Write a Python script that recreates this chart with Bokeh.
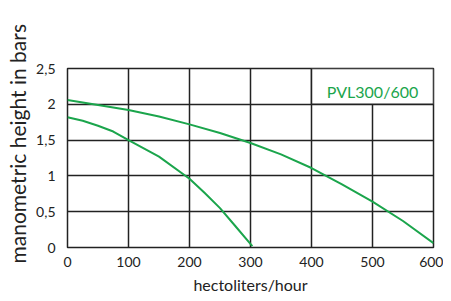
from bokeh.plotting import figure
from bokeh.models import FixedTicker, Label, Title
from bokeh.embed import file_html
from bokeh.resources import INLINE

# data
flow_a = [0, 50, 100, 150, 200, 250, 300, 350, 400, 450, 500, 550, 600]
head_a = [2.06, 1.99, 1.92, 1.83, 1.72, 1.60, 1.46, 1.30, 1.11, 0.88, 0.64, 0.37, 0.06]
flow_b = [0, 25, 50, 75, 100, 150, 200, 225, 250, 275, 303]
head_b = [1.82, 1.77, 1.70, 1.62, 1.50, 1.27, 0.96, 0.76, 0.55, 0.30, 0.02]
x_ticks = [0, 100, 200, 300, 400, 500, 600]
y_ticks = [0, 0.5, 1, 1.5, 2, 2.5]
y_tick_labels = ["0", "0,5", "1", "1,5", "2", "2,5"]
model_name = "PVL300/600"
x_title = "hectoliters/hour"
y_title = "manometric height in bars"

FONT = "Lato"
GREEN = "#1ba54c"
GRID = "#222222"
TEXT = "#222222"

p = figure(width=443, height=300, x_range=(0, 600), y_range=(0, 2.5),
           output_backend="svg", toolbar_location=None,
           min_border_left=67, min_border_right=10,
           min_border_top=68, min_border_bottom=53)
p.background_fill_color = "white"
p.border_fill_color = "white"
p.outline_line_color = GRID
p.outline_line_width = 1.5

p.xaxis.ticker = FixedTicker(ticks=x_ticks)
p.yaxis.ticker = FixedTicker(ticks=y_ticks)
p.yaxis.major_label_overrides = {float(t): l for t, l in zip(y_ticks, y_tick_labels)}
for ax in (p.xaxis, p.yaxis):
    ax.axis_line_color = None
    ax.major_tick_line_color = None
    ax.minor_tick_line_color = None
    ax.major_tick_out = 0
    ax.major_tick_in = 0
    ax.major_label_text_font = FONT
    ax.major_label_text_font_size = "14px"
    ax.major_label_text_color = TEXT
p.yaxis.major_label_standoff = 12
p.xaxis.major_label_standoff = 9

p.grid.grid_line_color = GRID
p.grid.grid_line_width = 1.5

# label box
p.quad(left=[400], right=[600], bottom=[2], top=[2.5], fill_color="white",
       line_color=GRID, line_width=1.5)

p.line(flow_a, head_a, line_color=GREEN, line_width=2)
p.line(flow_b, head_b, line_color=GREEN, line_width=2)

p.add_layout(Label(x=500, y=2.18, text=model_name, text_align="center",
                   text_baseline="alphabetic", text_font=FONT,
                   text_font_size="16px", text_color=GREEN))

p.add_layout(Title(text=x_title, align="center",
                   vertical_align="bottom", standoff=7,
                   text_font=FONT, text_font_size="16px",
                   text_font_style="normal", text_color=TEXT), "below")
p.add_layout(Title(text=y_title, align="left", offset=-16,
                   vertical_align="top", standoff=4,
                   text_font=FONT, text_font_size="21px",
                   text_font_style="normal", text_color=TEXT), "left")

open("out.html", "w").write(file_html(p, INLINE))
